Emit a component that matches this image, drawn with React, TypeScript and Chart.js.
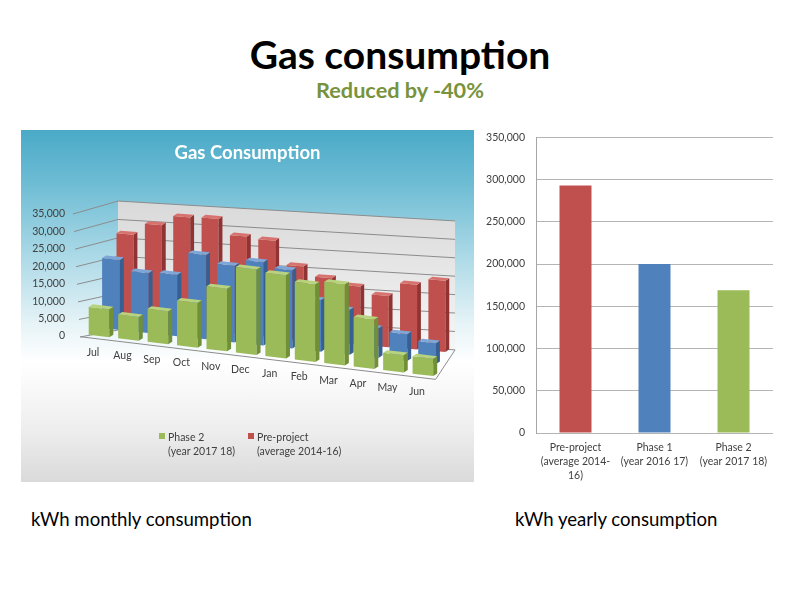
import React, { useEffect, useRef } from "react";
import { Chart, registerables } from "chart.js";

Chart.register(...registerables);

const FONT = "Lato, 'Open Sans', sans-serif";
Chart.defaults.font.family = FONT;

// ---- monthly data (kWh) ----
const months = ["Jul", "Aug", "Sep", "Oct", "Nov", "Dec", "Jan", "Feb", "Mar", "Apr", "May", "Jun"];
const phase2Monthly = [8000, 6800, 9500, 12900, 18000, 24500, 23900, 22300, 23300, 14200, 5000, 5000];
const phase1Monthly = [20100, 17200, 17600, 24200, 22000, 23900, 22500, 14800, 12900, 8500, 7700, 6000];
const preProjectMonthly = [26100, 29500, 32400, 32700, 28300, 27800, 21100, 18400, 16700, 14700, 18600, 20400];
const monthlyAxisMax = 35000;
const monthlyAxisStep = 5000;

// ---- yearly data (kWh) ----
const yearlyLabels = [
  ["Pre-project", "(average 2014-", "16)"],
  ["Phase 1", "(year 2016 17)"],
  ["Phase 2", "(year 2017 18)"],
];
const yearlyValues = [293000, 200000, 169000];
const yearlyAxisMax = 350000;
const yearlyAxisStep = 50000;

const RED = "#C0504D";
const BLUE = "#4F81BD";
const GREEN = "#9BBB59";

const fmt = (v: any) => Number(v).toLocaleString("en-US");

// pseudo-perspective style for each depth row (0 = front)
const ROWS = [
  { dx: 0, dy: 0, k: 1, s: 0.12 },
  { dx: 12, dy: -7, k: 0.976, s: 0.108 },
  { dx: 26, dy: -11, k: 0.963, s: 0.084 },
];
const FACES = [
  { side: "#708f37", top: "#b8d37e" },
  { side: "#375f91", top: "#7ea6d7" },
  { side: "#8f3432", top: "#d8726f" },
];

function rowMatrix(chart: any, r: number): number[] {
  const xs = chart.scales.x;
  const x0 = xs.getPixelForValue(0);
  const R = ROWS[r];
  return [R.k, R.s * R.k, 0, 1, x0 + R.dx - R.k * x0, R.dy - R.s * R.k * x0];
}

function apply(m: number[], x: number, y: number): [number, number] {
  return [m[0] * x + m[2] * y + m[4], m[1] * x + m[3] * y + m[5]];
}

const pseudo3d = {
  id: "pseudo3d",
  beforeDatasetsDraw(chart: any) {
    const ctx = chart.ctx;
    const { left, right } = chart.chartArea;
    const ys = chart.scales.y;
    const y0 = ys.getPixelForValue(0);
    const kw = 0.954, dw = 1.057, sw = 0.059, wx = 33.7, wy = -6;
    const W = (x: number, y: number): [number, number] => {
      const xp = left + wx + kw * (x - left);
      return [xp, y0 + wy + dw * (y - y0) + sw * (xp - left - wx)];
    };
    const yTop = ys.getPixelForValue(ys.max);
    ctx.save();
    const p1 = W(left, yTop), p2 = W(right, yTop), p3 = W(right, y0), p4 = W(left, y0);
    const g = ctx.createLinearGradient(0, p1[1], 0, p3[1]);
    g.addColorStop(0, "#d9d9d9");
    g.addColorStop(1, "#f6f6f6");
    ctx.fillStyle = g;
    ctx.beginPath();
    ctx.moveTo(p1[0], p1[1]);
    ctx.lineTo(p2[0], p2[1]);
    ctx.lineTo(p3[0], p3[1]);
    ctx.lineTo(p4[0], p4[1]);
    ctx.closePath();
    ctx.fill();
    ctx.strokeStyle = "#8c8c8c";
    ctx.lineWidth = 1;
    ys.ticks.forEach((t: any) => {
      const py = ys.getPixelForValue(t.value);
      const frac = t.value / ys.max;
      const fx = left - 4.3 - 7 * frac;
      const a = W(left, py), b = W(right, py);
      ctx.beginPath();
      ctx.moveTo(fx, py + (1 - frac));
      ctx.lineTo(a[0], a[1]);
      ctx.lineTo(b[0], b[1]);
      ctx.stroke();
    });
    // floor edges
    const m = rowMatrix(chart, 0);
    const fl = apply(m, left - 4, y0 + 3);
    const fr = apply(m, right - 2, y0 + 3);
    const br = W(right, y0);
    ctx.beginPath();
    ctx.moveTo(fl[0], fl[1]);
    ctx.lineTo(fr[0], fr[1]);
    ctx.lineTo(br[0], br[1]);
    ctx.stroke();
    ctx.restore();
  },
  beforeDatasetDraw(chart: any, args: any) {
    const ctx = chart.ctx;
    ctx.save();
    const m = rowMatrix(chart, args.index);
    ctx.transform(m[0], m[1], m[2], m[3], m[4], m[5]);
  },
  afterDatasetDraw(chart: any, args: any) {
    const ctx = chart.ctx;
    const f = FACES[args.index];
    args.meta.data.forEach((el: any) => {
      const { x, y, base, width } = el.getProps(["x", "y", "base", "width"], true);
      const l = x - width / 2, r = x + width / 2, dx = 4, dy = 3;
      ctx.fillStyle = f.side;
      ctx.beginPath();
      ctx.moveTo(r, y);
      ctx.lineTo(r + dx, y - dy);
      ctx.lineTo(r + dx, base - dy);
      ctx.lineTo(r, base);
      ctx.closePath();
      ctx.fill();
      ctx.fillStyle = f.top;
      ctx.beginPath();
      ctx.moveTo(l, y);
      ctx.lineTo(r, y);
      ctx.lineTo(r + dx, y - dy);
      ctx.lineTo(l + dx, y - dy);
      ctx.closePath();
      ctx.fill();
    });
    ctx.restore();
  },
  afterDatasetsDraw(chart: any) {
    const ctx = chart.ctx;
    const xs = chart.scales.x;
    const y0 = chart.scales.y.getPixelForValue(0);
    const m = rowMatrix(chart, 0);
    ctx.save();
    ctx.font = `10.5px ${FONT}`;
    ctx.fillStyle = "#404040";
    ctx.textAlign = "center";
    ctx.textBaseline = "middle";
    (chart.data.labels as string[]).forEach((lab, i) => {
      const p = apply(m, xs.getPixelForValue(i) - 6, y0 + 17);
      ctx.fillText(lab, p[0], p[1]);
    });
    ctx.restore();
  },
};

export default function App() {
  const leftRef = useRef<HTMLCanvasElement>(null);
  const rightRef = useRef<HTMLCanvasElement>(null);

  useEffect(() => {
    const left = new Chart(leftRef.current as HTMLCanvasElement, {
      type: "bar",
      data: {
        labels: months,
        datasets: [
          { label: "Phase 2 (year 2017 18)", data: phase2Monthly, backgroundColor: GREEN, order: 0, barPercentage: 0.7, categoryPercentage: 1, grouped: false, clip: false } as any,
          { label: "Phase 1 (year 2016 17)", data: phase1Monthly, backgroundColor: BLUE, order: 1, barPercentage: 0.62, categoryPercentage: 1, grouped: false, clip: false } as any,
          { label: "Pre-project (average 2014-16)", data: preProjectMonthly, backgroundColor: RED, order: 2, barPercentage: 0.6, categoryPercentage: 1, grouped: false, clip: false } as any,
        ],
      },
      options: {
        animation: false,
        responsive: true,
        maintainAspectRatio: false,
        events: [],
        layout: { padding: { left: 0, right: 0, top: 0, bottom: 146 } },
        plugins: {
          legend: { display: false },
          tooltip: { enabled: false },
          title: {
            display: true,
            text: "Gas Consumption",
            color: "#ffffff",
            font: { family: FONT, size: 18.5, weight: "bold" },
            padding: { top: 11.6, bottom: 50.2 },
          },
        },
        scales: {
          x: { display: false },
          y: {
            min: 0,
            max: monthlyAxisMax,
            afterFit: (s: any) => { s.width = 63.3; },
            grid: { display: false, drawTicks: false },
            border: { display: false },
            ticks: { stepSize: monthlyAxisStep, padding: 19.3, color: "#404040", font: { family: FONT, size: 10.5 }, callback: (v: any) => fmt(v) },
          },
          yRightSpace: {
            type: "linear",
            position: "right",
            display: true,
            afterFit: (s: any) => { s.width = 36.4; },
            grid: { display: false, drawTicks: false },
            border: { display: false },
            ticks: { display: false },
          },
        },
      },
      plugins: [pseudo3d],
    } as any);

    const right = new Chart(rightRef.current as HTMLCanvasElement, {
      type: "bar",
      data: {
        labels: yearlyLabels,
        datasets: [
          { label: "kWh", data: yearlyValues, backgroundColor: [RED, BLUE, GREEN], categoryPercentage: 0.45, barPercentage: 0.9 } as any,
        ],
      },
      options: {
        animation: false,
        responsive: true,
        maintainAspectRatio: false,
        events: [],
        layout: { padding: { left: 0, right: 7, top: 15, bottom: 0 } },
        plugins: { legend: { display: false }, tooltip: { enabled: false }, title: { display: false } },
        scales: {
          x: {
            afterFit: (s: any) => { s.height = 57; },
            grid: { display: false, drawTicks: false },
            border: { display: false },
            ticks: { padding: 8, autoSkip: false, maxRotation: 0, color: "#404040", font: { family: FONT, size: 10.5, lineHeight: 1.3 } },
          },
          y: {
            min: 0,
            max: yearlyAxisMax,
            afterFit: (s: any) => { s.width = 56; },
            grid: { color: "#b4b4b4", drawTicks: false },
            border: { display: true, color: "#a6a6a6" },
            ticks: { stepSize: yearlyAxisStep, padding: 11, color: "#404040", font: { family: FONT, size: 10.5 }, callback: (v: any) => fmt(v) },
          },
        },
      },
    } as any);

    return () => {
      left.destroy();
      right.destroy();
    };
  }, []);

  const legendText: React.CSSProperties = {
    position: "absolute",
    top: 300,
    fontSize: 10.5,
    lineHeight: "14px",
    color: "#404040",
    whiteSpace: "nowrap",
  };

  return (
    <div style={{ position: "absolute", left: 0, top: 0, width: 800, height: 600, background: "#ffffff", overflow: "hidden", fontFamily: FONT }}>
      <div style={{ position: "absolute", left: 0, top: 35.4, width: 800, textAlign: "center", fontSize: 39, lineHeight: "39px", fontWeight: 700, color: "#000" }}>
        Gas consumption
      </div>
      <div style={{ position: "absolute", left: 0, top: 78.5, width: 800, textAlign: "center", fontSize: 21.7, lineHeight: "22px", fontWeight: 700, color: "#77933C" }}>
        Reduced by -40%
      </div>

      <div
        style={{
          position: "absolute",
          left: 21,
          top: 130,
          width: 453,
          height: 352,
          background:
            "linear-gradient(to bottom, #4aaac8 0%, #6dbcd4 15%, #a9d8e6 35%, #e6f3f7 55%, #ffffff 66%, #eeeeee 85%, #dadada 100%)",
        }}
      >
        <div style={{ position: "absolute", left: 0, top: 0, width: 453, height: 352 }}>
          <canvas ref={leftRef} />
        </div>
        <div style={{ position: "absolute", left: 138, top: 303, width: 6, height: 6, background: GREEN }} />
        <div style={{ ...legendText, left: 147 }}>
          Phase 2
          <br />
          (year 2017 18)
        </div>
        <div style={{ position: "absolute", left: 227, top: 303, width: 6, height: 6, background: RED }} />
        <div style={{ ...legendText, left: 236 }}>
          Pre-project
          <br />
          (average 2014-16)
        </div>
      </div>

      <div style={{ position: "absolute", left: 480, top: 120, width: 300, height: 370 }}>
        <canvas ref={rightRef} />
      </div>

      <div style={{ position: "absolute", left: 31, top: 510.2, fontSize: 18.6, lineHeight: "18.6px", color: "#000" }}>kWh monthly consumption</div>
      <div style={{ position: "absolute", left: 515, top: 510.2, fontSize: 18.6, lineHeight: "18.6px", color: "#000" }}>kWh yearly consumption</div>
    </div>
  );
}
